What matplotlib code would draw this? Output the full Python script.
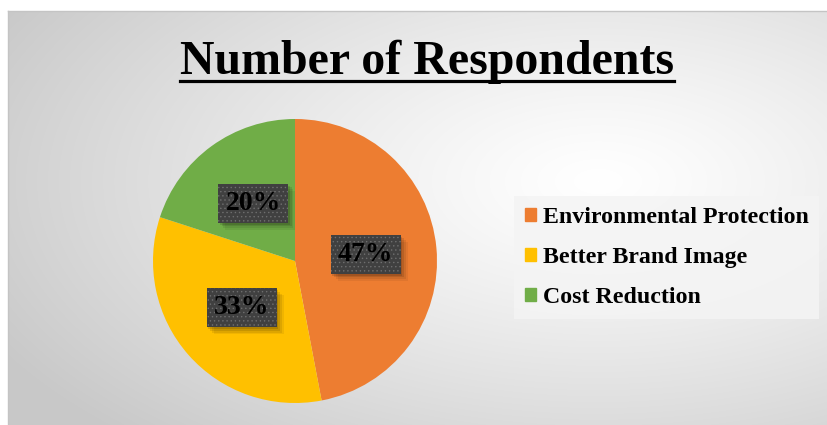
import numpy as np
import matplotlib.pyplot as plt
from matplotlib.patches import Rectangle, Patch
from matplotlib.lines import Line2D

title = 'Number of Respondents'
labels = ['Environmental Protection', 'Better Brand Image', 'Cost Reduction']
shares = [47, 33, 20]
colors = ['#ED7D31', '#FFC000', '#70AD47']

W, H = 827, 425
fig = plt.figure(figsize=(W / 100, H / 100), dpi=100)
fig.patch.set_facecolor('white')

# chart area with radial grey->white gradient (Excel style)
bg = fig.add_axes([8 / W, 0, 1 - 8 / W, 1 - 11 / H])
yy, xx = np.mgrid[0:414, 0:819]
t = np.sqrt(((xx - 590) / 620.0) ** 2 + ((yy - 170) / 320.0) ** 2)
g = 1 - 0.19 * np.clip(t, 0, 1.1) ** 1.2
bg.imshow(np.dstack([g, g, g]), aspect='auto', interpolation='bilinear')
bg.set_xticks([])
bg.set_yticks([])
for s in ['right', 'bottom']:
    bg.spines[s].set_visible(False)
for s in ['top', 'left']:
    bg.spines[s].set_color('#c4c4c4')
    bg.spines[s].set_linewidth(1)

# pie
cx, cy, r = 295, 261, 142
ax = fig.add_axes([(cx - r) / W, (H - cy - r) / H, 2 * r / W, 2 * r / H])
wedges, texts, autotexts = ax.pie(shares, colors=colors, startangle=90, counterclock=False,
                                  autopct='%d%%', pctdistance=0.5,
                                  wedgeprops=dict(linewidth=0),
                                  textprops=dict(family='Liberation Serif', weight='bold',
                                                 size=20, color='black'))
ax.set_xlim(-1, 1)
ax.set_ylim(-1, 1)
for w in wedges:
    w.set_clip_on(False)

plt.rcParams['hatch.linewidth'] = 0.5
bw, bh = 70 / r, 39 / r
for at in autotexts:
    x, y = at.get_position()
    for k, a in [(1, 0.12), (2, 0.1), (3, 0.08), (4, 0.06)]:
        d = k * 0.012
        ax.add_patch(Rectangle((x - bw / 2 + d, y - bh / 2 - d), bw, bh,
                               facecolor='black', alpha=a, lw=0, zorder=3))
    ax.add_patch(Rectangle((x - bw / 2, y - bh / 2), bw, bh, facecolor='#404040',
                           edgecolor='#6e6e6e', hatch='....', lw=0, zorder=4))
    at.set_zorder(5)
    at.set_va('center')

# title with underline
tt = fig.text(426.5 / W, 1 - 74 / H, title, ha='center', va='baseline', fontsize=34.5,
              fontweight='bold', family='Liberation Serif')
fig.canvas.draw()
bb = tt.get_window_extent()
uy = 1 - 80.5 / H
fig.add_artist(Line2D([bb.x0 / W, bb.x1 / W], [uy, uy], transform=fig.transFigure,
                      color='black', lw=2.3))

# legend
handles = [Patch(color=c, label=l) for c, l in zip(colors, labels)]
fig.legend(handles=handles, loc='center left', bbox_to_anchor=(514 / W, 1 - 257.5 / H),
           prop=dict(family='Liberation Serif', weight='bold', size=17.2),
           frameon=True, facecolor='#f4f4f4', edgecolor='none', framealpha=0.85,
           fancybox=False, handlelength=0.45, handleheight=0.45, handletextpad=0.3,
           labelspacing=0.8, borderpad=0.45, borderaxespad=0)

fig.savefig('out.png', dpi=100)
